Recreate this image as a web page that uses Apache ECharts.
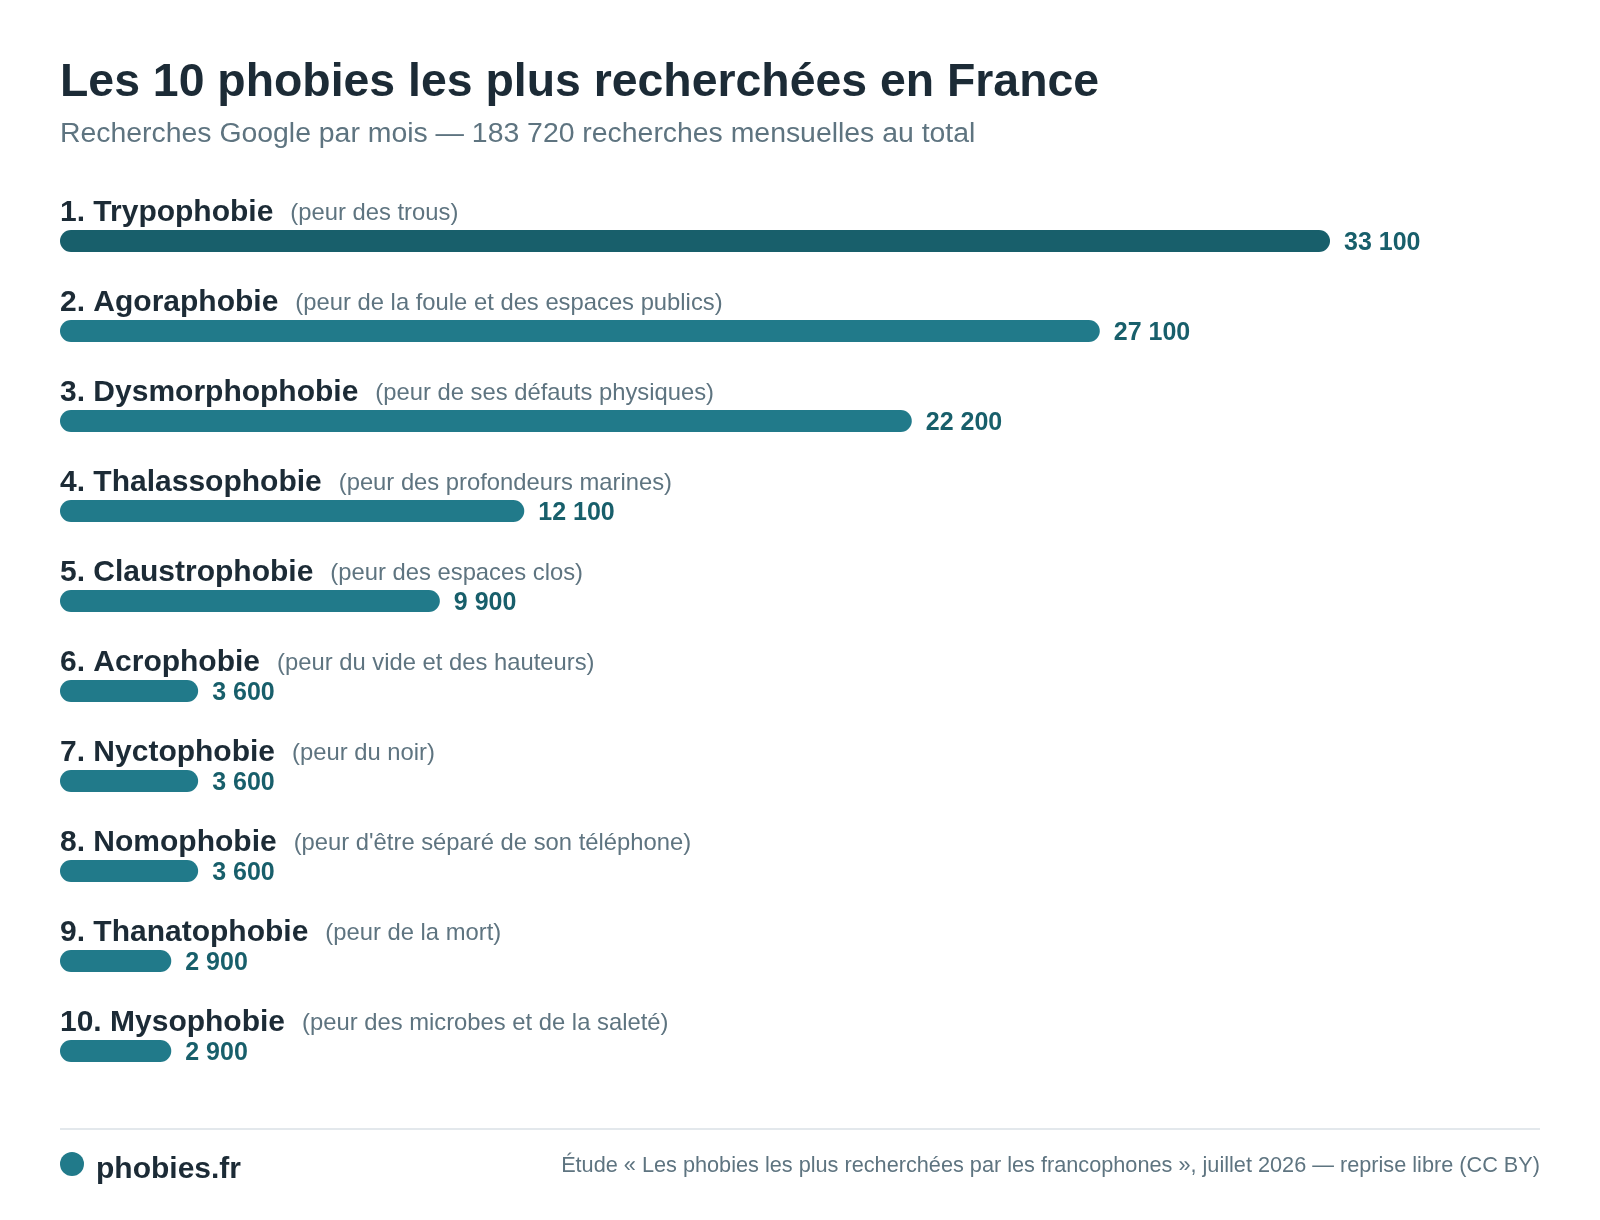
<!DOCTYPE html>
<html lang="fr">
<head>
<meta charset="utf-8">
<title>Les 10 phobies les plus recherchées en France</title>
<script src="https://cdn.jsdelivr.net/npm/echarts@6/dist/echarts.min.js"></script>
<style>
  html, body { margin: 0; padding: 0; background: #ffffff; }
  #container { width: 1600px; height: 1220px; }
</style>
</head>
<body>
<div id="container"></div>
<script>
// données du graphique
var phobies = ['Trypophobie', 'Agoraphobie', 'Dysmorphophobie', 'Thalassophobie', 'Claustrophobie',
  'Acrophobie', 'Nyctophobie', 'Nomophobie', 'Thanatophobie', 'Mysophobie'];
var descriptions = ['peur des trous', 'peur de la foule et des espaces publics', 'peur de ses défauts physiques',
  'peur des profondeurs marines', 'peur des espaces clos', 'peur du vide et des hauteurs', 'peur du noir',
  "peur d'être séparé de son téléphone", 'peur de la mort', 'peur des microbes et de la saleté'];
var recherches = [33100, 27100, 22200, 12100, 9900, 3600, 3600, 3600, 2900, 2900];

var FONT = '"Liberation Sans", Arial, Helvetica, sans-serif';
var DARK = '#1c2b36';
var GREY = '#5e7480';
var TEAL = '#217a8a';
var TEAL_DARK = '#185f6b';

function formatNombre(v) {
  return String(v).replace(/\B(?=(\d{3})+(?!\d))/g, ' ');
}

(function() {
  var myChart = echarts.init(document.getElementById('container'));

  // libellés "1. Trypophobie"
  var categories = phobies.map(function(p, i) {
    return (i + 1) + '. ' + p;
  });

  // barres, la première plus foncée
  var barData = recherches.map(function(v, i) {
    return {
      value: v,
      itemStyle: { color: i === 0 ? TEAL_DARK : TEAL }
    };
  });

  var option = {
    backgroundColor: '#ffffff',
    textStyle: { fontFamily: FONT },
    animation: false,
    title: [
      {
        text: 'Les 10 phobies les plus recherchées en France',
        left: 60, top: 60, padding: 0,
        textStyle: { fontFamily: FONT, fontSize: 46.4, fontWeight: 'bold', color: DARK, lineHeight: 46 }
      },
      {
        text: 'Recherches Google par mois — 183 720 recherches mensuelles au total',
        left: 60, top: 120, padding: 0,
        textStyle: { fontFamily: FONT, fontSize: 28.4, fontWeight: 'normal', color: GREY, lineHeight: 28 }
      },
      {
        text: 'phobies.fr',
        left: 96, top: 1155, padding: 0,
        textStyle: { fontFamily: FONT, fontSize: 30, fontWeight: 'bold', color: DARK, lineHeight: 30 }
      },
      {
        text: 'Étude « Les phobies les plus recherchées par les francophones », juillet 2026 — reprise libre (CC BY)',
        right: 60, top: 1155, padding: 0,
        textStyle: { fontFamily: FONT, fontSize: 21.7, fontWeight: 'normal', color: GREY, lineHeight: 22 }
      }
    ],
    graphic: [
      {
        type: 'line',
        shape: { x1: 60, y1: 1129, x2: 1540, y2: 1129 },
        style: { stroke: '#e3e8ec', lineWidth: 2 }
      },
      {
        type: 'circle',
        shape: { cx: 72, cy: 1164, r: 12 },
        style: { fill: TEAL }
      }
    ],
    grid: { left: 60, right: 270, top: 196, bottom: 124 },
    xAxis: {
      type: 'value',
      min: 0,
      max: 33100,
      show: false
    },
    yAxis: {
      type: 'category',
      inverse: true,
      data: categories,
      axisLine: { show: false },
      axisTick: { show: false },
      splitLine: { show: false },
      axisLabel: {
        inside: true,
        margin: 0,
        interval: 0,
        align: 'left',
        verticalAlign: 'bottom',
        padding: [0, 0, 13, 0],
        formatter: function(value, index) {
          return '{rang|' + value + '}{desc|(' + descriptions[index] + ')}';
        },
        rich: {
          rang: { fontFamily: FONT, fontSize: 30, fontWeight: 'bold', color: DARK, lineHeight: 30, verticalAlign: 'bottom' },
          desc: { fontFamily: FONT, fontSize: 23.8, color: GREY, lineHeight: 26, padding: [0, 0, 3, 17], verticalAlign: 'bottom' }
        }
      }
    },
    series: [
      {
        type: 'bar',
        data: barData,
        barWidth: 22,
        itemStyle: { borderRadius: 11 },
        label: {
          show: true,
          position: 'right',
          distance: 14,
          offset: [0, 2],
          fontFamily: FONT,
          fontSize: 25,
          fontWeight: 'bold',
          color: TEAL_DARK,
          formatter: function(p) { return formatNombre(p.value); }
        }
      }
    ]
  };
  myChart.setOption(option);
})();
</script>
</body>
</html>
